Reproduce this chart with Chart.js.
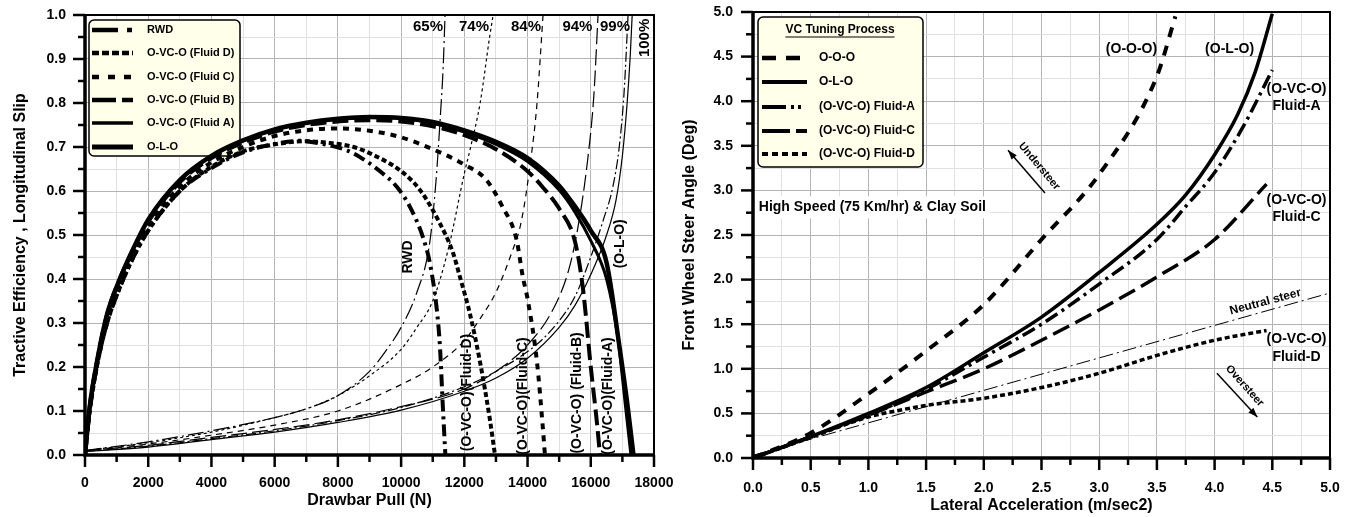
<!DOCTYPE html>
<html>
<head>
<meta charset="utf-8">
<script src="https://cdn.jsdelivr.net/npm/chart.js@4.4.1/dist/chart.umd.min.js"></script>
<style>
    body { margin: 0; background: #fff; width: 1355px; height: 517px; overflow: hidden; position: relative; }
    canvas { position: absolute; top: 0; }
    #tractionChart { left: 0; }
    #steerChart { left: 680px; }
</style>
</head>
<body>
<canvas id="tractionChart" width="675" height="517"></canvas>
<canvas id="steerChart" width="675" height="517"></canvas>
<script>
// ---- left chart : tractive efficiency vs drawbar pull ----
var rwdPull = [0, 150, 400, 700, 1100, 1500, 2000, 3000, 4000, 5000, 6000, 6800, 7500, 8300, 8700, 9400, 9870, 10280, 10690, 10910, 11130, 11230, 11320, 11400];
var rwdEff = [0, 0.1, 0.21, 0.3, 0.38, 0.445, 0.51, 0.6, 0.652, 0.688, 0.707, 0.714, 0.707, 0.692, 0.677, 0.641, 0.609, 0.564, 0.495, 0.436, 0.33, 0.245, 0.11, 0];
var fluidDPull = [0, 150, 400, 700, 1100, 1500, 2000, 3000, 4000, 5000, 6000, 7000, 7750, 8500, 9000, 10000, 10600, 11200, 11640, 11860, 12180, 12500, 12810, 12970];
var fluidDEff = [0, 0.1, 0.21, 0.3, 0.38, 0.445, 0.51, 0.6, 0.655, 0.69, 0.706, 0.713, 0.709, 0.7, 0.686, 0.645, 0.602, 0.53, 0.46, 0.405, 0.32, 0.21, 0.08, 0];
var fluidCPull = [0, 150, 400, 700, 1100, 1500, 2000, 3000, 4000, 5000, 6000, 7000, 8000, 9000, 10000, 11000, 12000, 12700, 13200, 13650, 13850, 14000, 14300, 14480, 14550];
var fluidCEff = [0, 0.105, 0.215, 0.31, 0.39, 0.455, 0.52, 0.61, 0.665, 0.7, 0.725, 0.738, 0.742, 0.737, 0.722, 0.695, 0.66, 0.625, 0.565, 0.49, 0.405, 0.355, 0.21, 0.065, 0];
var fluidBPull = [0, 150, 400, 700, 1100, 1500, 2000, 3000, 4000, 5000, 6000, 7000, 8000, 9000, 10000, 11000, 12000, 13000, 14000, 14500, 15000, 15500, 15750, 16000, 16200, 16290];
var fluidBEff = [0, 0.11, 0.22, 0.32, 0.4, 0.462, 0.53, 0.62, 0.675, 0.71, 0.735, 0.75, 0.758, 0.761, 0.758, 0.747, 0.727, 0.695, 0.645, 0.607, 0.56, 0.485, 0.38, 0.2, 0.07, 0];
var fluidAPull = [0, 150, 400, 700, 1100, 1500, 2000, 3000, 4000, 5000, 6000, 7000, 8000, 9000, 10000, 11000, 12000, 13000, 14000, 15000, 15500, 16000, 16500, 16850, 17100, 17270];
var fluidAEff = [0, 0.11, 0.22, 0.32, 0.4, 0.465, 0.535, 0.625, 0.68, 0.714, 0.739, 0.754, 0.763, 0.767, 0.765, 0.754, 0.734, 0.706, 0.667, 0.602, 0.552, 0.487, 0.4, 0.27, 0.11, 0];
var oloPull = [0, 150, 400, 700, 1100, 1500, 2000, 3000, 4000, 5000, 6000, 7000, 8000, 9000, 10000, 11000, 12000, 13000, 14000, 15000, 15500, 16000, 16500, 16900, 17150, 17350];
var oloEff = [0, 0.11, 0.22, 0.32, 0.4, 0.465, 0.535, 0.625, 0.68, 0.715, 0.74, 0.755, 0.764, 0.768, 0.766, 0.757, 0.738, 0.712, 0.675, 0.612, 0.565, 0.51, 0.437, 0.25, 0.12, 0];

// longitudinal slip curves (thin lines)
var rwdSlipPull = [0, 2000, 4000, 6000, 7000, 8000, 9000, 9500, 10000, 10500, 10900, 11100, 11250, 11330, 11390];
var rwdSlip = [0.01, 0.03, 0.055, 0.085, 0.105, 0.135, 0.19, 0.235, 0.29, 0.37, 0.48, 0.62, 0.78, 0.88, 1.0];
var fluidDSlipPull = [0, 2000, 4000, 6000, 7000, 8000, 9000, 10000, 10500, 11000, 11500, 12000, 12200, 12500, 12800, 12910];
var fluidDSlip = [0.01, 0.028, 0.052, 0.085, 0.105, 0.135, 0.18, 0.24, 0.29, 0.35, 0.47, 0.64, 0.7, 0.8, 0.95, 1.0];
var fluidCSlipPull = [0, 2000, 4000, 6000, 8000, 10000, 11000, 12000, 12500, 13000, 13500, 13800, 14100, 14300, 14490];
var fluidCSlip = [0.01, 0.025, 0.045, 0.068, 0.1, 0.16, 0.2, 0.26, 0.31, 0.37, 0.46, 0.53, 0.67, 0.8, 1.0];
var fluidBSlipPull = [0, 2000, 4000, 6000, 8000, 10000, 12000, 13000, 14000, 14800, 15300, 15600, 15900, 16100, 16230];
var fluidBSlip = [0.01, 0.022, 0.04, 0.058, 0.08, 0.11, 0.15, 0.19, 0.25, 0.33, 0.42, 0.52, 0.67, 0.82, 1.0];
var fluidASlipPull = [0, 2000, 4000, 6000, 8000, 10000, 12000, 13000, 14000, 14500, 15000, 15500, 16000, 16400, 16700, 16900, 17050, 17180];
var fluidASlip = [0.008, 0.02, 0.037, 0.055, 0.078, 0.108, 0.155, 0.19, 0.235, 0.265, 0.305, 0.36, 0.45, 0.535, 0.61, 0.7, 0.82, 1.0];
var oloSlipPull = [0, 2000, 4000, 6000, 8000, 10000, 12000, 13000, 14000, 15000, 15500, 16000, 16500, 16800, 17000, 17150, 17250, 17310];
var oloSlip = [0.008, 0.018, 0.035, 0.052, 0.074, 0.102, 0.145, 0.175, 0.22, 0.29, 0.34, 0.41, 0.5, 0.58, 0.68, 0.8, 0.91, 1.0];

// ---- right chart : front wheel steer angle vs lateral acceleration ----
var oooAcc = [0, 0.5, 1.0, 1.5, 2.0, 2.5, 3.0, 3.5, 3.66];
var oooSteer = [0, 0.28, 0.72, 1.2, 1.72, 2.45, 3.18, 4.28, 4.95];
var oloAcc = [0, 0.5, 1.0, 1.5, 2.0, 2.5, 3.0, 3.5, 3.75, 4.0, 4.2, 4.35, 4.5];
var oloSteer = [0, 0.24, 0.5, 0.79, 1.18, 1.58, 2.08, 2.62, 2.95, 3.4, 3.85, 4.32, 4.98];
var vcFluidAAcc = [0, 0.5, 1.0, 1.5, 2.0, 2.5, 3.0, 3.5, 3.75, 4.0, 4.25, 4.5];
var vcFluidASteer = [0, 0.24, 0.48, 0.77, 1.13, 1.5, 1.95, 2.45, 2.82, 3.2, 3.72, 4.35];
var vcFluidCAcc = [0, 0.5, 1.0, 1.5, 2.0, 2.5, 3.0, 3.5, 4.0, 4.45];
var vcFluidCSteer = [0, 0.24, 0.48, 0.74, 1.0, 1.32, 1.66, 2.03, 2.45, 3.07];
var vcFluidDAcc = [0, 0.5, 1.0, 1.25, 1.5, 2.0, 2.5, 3.0, 3.5, 4.0, 4.45];
var vcFluidDSteer = [0, 0.23, 0.46, 0.53, 0.59, 0.67, 0.79, 0.95, 1.15, 1.32, 1.43];
var neutralAcc = [0, 5];
var neutralSteer = [0.03, 1.85];

var FONT = "'Liberation Sans', Arial, sans-serif";
Chart.defaults.font.family = FONT;
Chart.defaults.font.weight = 'bold';
Chart.defaults.color = '#000';

function pts(xs, ys) {
    return xs.map(function (x, i) { return { x: x, y: ys[i] }; });
}

function curve(label, xs, ys, width, dash, legendDash) {
    return {
        label: label,
        data: pts(xs, ys),
        borderColor: '#000',
        borderWidth: width,
        borderDash: dash,
        legendDash: legendDash,
        inLegend: legendDash !== undefined,
        showLine: true,
        pointRadius: 0,
        cubicInterpolationMode: 'monotone',
        fill: false
    };
}

function gridColor(c) {
    return c.tick && c.tick.label !== '' ? '#b4b4b4' : '#e0e0e0';
}

// ticks (long major, short minor), thick axis lines and box frame
var frame = {
    id: 'frame',
    afterDraw: function (chart) {
        var ctx = chart.ctx, a = chart.chartArea;
        var xs = chart.scales.x, ys = chart.scales.y;
        ctx.save();
        ctx.strokeStyle = '#000';
        ctx.lineWidth = 2.5;
        xs.ticks.forEach(function (t) {
            var p = xs.getPixelForValue(t.value);
            var len = t.label !== '' ? 12 : 7;
            ctx.beginPath(); ctx.moveTo(p, a.bottom); ctx.lineTo(p, a.bottom + len); ctx.stroke();
        });
        ys.ticks.forEach(function (t) {
            var p = ys.getPixelForValue(t.value);
            var len = t.label !== '' ? 12 : 7;
            ctx.beginPath(); ctx.moveTo(a.left, p); ctx.lineTo(a.left - len, p); ctx.stroke();
        });
        ctx.lineWidth = 2;
        ctx.strokeRect(a.left, a.top, a.right - a.left, a.bottom - a.top);
        ctx.lineWidth = 3.5;
        ctx.beginPath();
        ctx.moveTo(a.left, a.top); ctx.lineTo(a.left, a.bottom); ctx.lineTo(a.right, a.bottom);
        ctx.stroke();
        ctx.restore();
    }
};

function roundBox(ctx, x, y, w, h, r) {
    ctx.beginPath();
    ctx.moveTo(x + r, y);
    ctx.arcTo(x + w, y, x + w, y + h, r);
    ctx.arcTo(x + w, y + h, x, y + h, r);
    ctx.arcTo(x, y + h, x, y, r);
    ctx.arcTo(x, y, x + w, y, r);
    ctx.closePath();
}

function makeLegend(box) {
    return {
        id: 'boxLegend',
        beforeDatasetsDraw: function (chart) {
            var ctx = chart.ctx;
            ctx.save();
            roundBox(ctx, box.x, box.y, box.w, box.h, 5);
            ctx.fillStyle = '#ffffea';
            ctx.fill();
            ctx.lineWidth = 1.5;
            ctx.strokeStyle = '#000';
            ctx.stroke();
            ctx.fillStyle = '#000';
            ctx.font = 'bold ' + box.size + 'px ' + FONT;
            ctx.textBaseline = 'middle';
            if (box.title) {
                ctx.textAlign = 'center';
                ctx.fillText(box.title, box.titleX, box.titleY);
                var tw = ctx.measureText(box.title).width;
                ctx.lineWidth = 1;
                ctx.beginPath();
                ctx.moveTo(box.titleX - tw / 2, box.titleY + 7);
                ctx.lineTo(box.titleX + tw / 2, box.titleY + 7);
                ctx.stroke();
            }
            ctx.textAlign = 'left';
            var row = 0;
            chart.data.datasets.forEach(function (ds) {
                if (!ds.inLegend) return;
                var y = box.rows[row++];
                ctx.setLineDash(ds.legendDash);
                ctx.lineWidth = ds.borderWidth + 0.5;
                ctx.beginPath();
                ctx.moveTo(box.sx0, y); ctx.lineTo(box.sx1, y);
                ctx.stroke();
                ctx.setLineDash([]);
                ctx.fillText(ds.label, box.tx, y);
            });
            ctx.restore();
        }
    };
}

function makeNotes(items, arrows) {
    return {
        id: 'notes',
        afterDatasetsDraw: function (chart) {
            var ctx = chart.ctx, xs = chart.scales.x, ys = chart.scales.y;
            items.forEach(function (n) {
                ctx.save();
                ctx.translate(xs.getPixelForValue(n.x), ys.getPixelForValue(n.y));
                ctx.rotate((n.rot || 0) * Math.PI / 180);
                ctx.font = 'bold ' + (n.size || 14) + 'px ' + FONT;
                ctx.textAlign = n.align || 'center';
                ctx.textBaseline = 'middle';
                if (n.bg) {
                    var w = ctx.measureText(n.text).width;
                    ctx.fillStyle = '#fff';
                    ctx.fillRect(-4, -11, w + 8, 22);
                }
                ctx.fillStyle = '#000';
                ctx.fillText(n.text, 0, 0);
                ctx.restore();
            });
            (arrows || []).forEach(function (ar) {
                var x0 = xs.getPixelForValue(ar[0]), y0 = ys.getPixelForValue(ar[1]);
                var x1 = xs.getPixelForValue(ar[2]), y1 = ys.getPixelForValue(ar[3]);
                var ang = Math.atan2(y1 - y0, x1 - x0);
                ctx.save();
                ctx.strokeStyle = '#000';
                ctx.fillStyle = '#000';
                ctx.lineWidth = 1.5;
                ctx.beginPath(); ctx.moveTo(x0, y0); ctx.lineTo(x1, y1); ctx.stroke();
                ctx.beginPath();
                ctx.moveTo(x1, y1);
                ctx.lineTo(x1 - 10 * Math.cos(ang - 0.35), y1 - 10 * Math.sin(ang - 0.35));
                ctx.lineTo(x1 - 10 * Math.cos(ang + 0.35), y1 - 10 * Math.sin(ang + 0.35));
                ctx.closePath();
                ctx.fill();
                ctx.restore();
            });
        }
    };
}

// label offset is carried by an invisible tick so the scale padding stays small
function axis(min, max, step, fmt, title, fit, offset, titlePad, horizontal) {
    return {
        type: 'linear',
        min: min,
        max: max,
        border: { display: false },
        grid: { color: gridColor, lineWidth: 1, drawTicks: true, tickLength: offset, tickColor: 'rgba(0,0,0,0)' },
        ticks: {
            stepSize: step,
            autoSkip: false,
            maxRotation: 0,
            padding: 0,
            font: { size: 14, weight: 'bold' },
            callback: fmt
        },
        title: { display: true, text: title, font: { size: 16, weight: 'bold' }, padding: titlePad },
        afterFit: function (s) {
            if (horizontal) s.height = fit; else s.width = fit;
        }
    };
}

function baseOptions(layoutPad) {
    return {
        responsive: false,
        animation: false,
        layout: { padding: layoutPad },
        plugins: { legend: { display: false }, tooltip: { enabled: false } }
    };
}

TractionChart();
function TractionChart() {
    var ctx = document.getElementById('tractionChart').getContext('2d');
    var opts = baseOptions({ left: 0, top: 15, right: 21, bottom: 0 });
    opts.scales = {
        x: axis(0, 18000, 1000, function (v) { return Math.round(v / 1000) % 2 === 0 ? String(v) : ''; },
            'Drawbar Pull (N)', 62, 20, { top: 0, bottom: 7 }, true),
        y: axis(0, 1, 0.05, function (v) { return Math.round(v * 20) % 2 === 0 ? v.toFixed(1) : ''; },
            'Tractive Efficiency , Longitudinal Slip', 85, 19, { top: 11, bottom: 0 }, false)
    };
    window.MyTractionChart = new Chart(ctx, {
        type: 'scatter',
        data: {
            datasets: [
                curve('RWD', rwdPull, rwdEff, 4, [12, 5, 3, 5], [26, 9, 5, 20]),
                curve('O-VC-O (Fluid D)', fluidDPull, fluidDEff, 4, [5, 3], [7, 3]),
                curve('O-VC-O (Fluid C)', fluidCPull, fluidCEff, 4, [6, 6], [7, 9]),
                curve('O-VC-O (Fluid B)', fluidBPull, fluidBEff, 4, [16, 6], [24, 6, 12, 6]),
                curve('O-VC-O (Fluid A)', fluidAPull, fluidAEff, 3, [], []),
                curve('O-L-O', oloPull, oloEff, 4.5, [], []),
                curve('RWD slip', rwdSlipPull, rwdSlip, 1.2, [16, 4, 2, 4]),
                curve('Fluid D slip', fluidDSlipPull, fluidDSlip, 1.2, [3, 3]),
                curve('Fluid C slip', fluidCSlipPull, fluidCSlip, 1.2, [6, 5]),
                curve('Fluid B slip', fluidBSlipPull, fluidBSlip, 1.2, [16, 5]),
                curve('Fluid A slip', fluidASlipPull, fluidASlip, 1.2, [10, 3, 2, 3]),
                curve('O-L-O slip', oloSlipPull, oloSlip, 1.2, [])
            ]
        },
        options: opts,
        plugins: [
            frame,
            makeLegend({ x: 89, y: 20, w: 151, h: 136, size: 11, rows: [30, 53, 77, 100, 123, 147], sx0: 92, sx1: 133, tx: 147 }),
            makeNotes([
                { text: '65%', x: 10850, y: 0.973, size: 15 },
                { text: '74%', x: 12305, y: 0.973, size: 15 },
                { text: '84%', x: 13950, y: 0.973, size: 15 },
                { text: '94%', x: 15578, y: 0.973, size: 15 },
                { text: '99%', x: 16765, y: 0.973, size: 15 },
                { text: '100%', x: 17713, y: 0.948, size: 15, rot: -90 },
                { text: 'RWD', x: 10217, y: 0.45, rot: -90 },
                { text: '(O-VC-O)(Fluid-D)', x: 12083, y: 0.142, rot: -90 },
                { text: '(O-VC-O)(Fluid-C)', x: 13854, y: 0.134, rot: -90 },
                { text: '(O-VC-O) (Fluid-B)', x: 15562, y: 0.141, rot: -90 },
                { text: '(O-VC-O)(Fluid-A)', x: 16543, y: 0.134, rot: -90 },
                { text: '(O-L-O)', x: 16922, y: 0.48, rot: -90 }
            ])
        ]
    });
}

SteerChart();
function SteerChart() {
    var ctx = document.getElementById('steerChart').getContext('2d');
    var opts = baseOptions({ left: 0, top: 12, right: 25, bottom: 0 });
    var half = function (v) { return Math.round(v * 4) % 2 === 0 ? v.toFixed(1) : ''; };
    opts.scales = {
        x: axis(0, 5, 0.25, half, 'Lateral Acceleration (m/sec2)', 59, 22, { top: 0, bottom: 2 }, true),
        y: axis(0, 5, 0.25, half, 'Front Wheel Steer Angle (Deg)', 73, 20, { top: 0, bottom: 0 }, false)
    };
    window.MySteerChart = new Chart(ctx, {
        type: 'scatter',
        data: {
            datasets: [
                curve('O-O-O', oooAcc, oooSteer, 4, [10, 9], [14, 10]),
                curve('O-L-O', oloAcc, oloSteer, 3.5, [], []),
                curve('(O-VC-O) Fluid-A', vcFluidAAcc, vcFluidASteer, 3.5, [14, 5, 3, 5], [24, 5, 3, 4, 3, 40]),
                curve('(O-VC-O) Fluid-C', vcFluidCAcc, vcFluidCSteer, 3.5, [18, 7], [28, 6, 14, 40]),
                curve('(O-VC-O) Fluid-D', vcFluidDAcc, vcFluidDSteer, 3.5, [5, 3], [6, 4]),
                curve('Neutral steer', neutralAcc, neutralSteer, 1, [14, 4, 2, 4])
            ]
        },
        options: opts,
        plugins: [
            frame,
            makeLegend({ x: 78, y: 17, w: 165, h: 150, size: 12, title: 'VC Tuning Process', titleX: 160, titleY: 30,
                rows: [58, 82, 107, 131, 154], sx0: 82, sx1: 127, tx: 139 }),
            makeNotes([
                { text: '(O-O-O)', x: 3.28, y: 4.58 },
                { text: '(O-L-O)', x: 4.13, y: 4.58 },
                { text: '(O-VC-O)', x: 4.71, y: 4.13 },
                { text: 'Fluid-A', x: 4.71, y: 3.94 },
                { text: '(O-VC-O)', x: 4.71, y: 2.89 },
                { text: 'Fluid-C', x: 4.71, y: 2.70 },
                { text: '(O-VC-O)', x: 4.71, y: 1.33 },
                { text: 'Fluid-D', x: 4.71, y: 1.13 },
                { text: 'Neutral steer', x: 4.44, y: 1.75, size: 12, rot: -15 },
                { text: 'Understeer', x: 2.48, y: 3.27, size: 11, rot: 50 },
                { text: 'Oversteer', x: 4.26, y: 0.81, size: 11, rot: 48 },
                { text: 'High Speed (75 Km/hr) & Clay Soil', x: 0.05, y: 2.81, size: 14, align: 'left', bg: true }
            ], [
                [2.53, 2.97, 2.21, 3.45],
                [4.02, 0.95, 4.37, 0.46]
            ])
        ]
    });
}
</script>
</body>
</html>
